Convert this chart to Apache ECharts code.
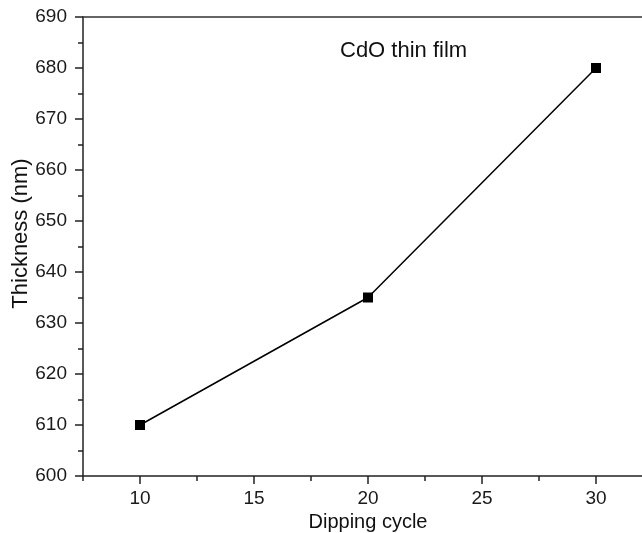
<!DOCTYPE html>
<html><head><meta charset="utf-8">
<script src="https://cdn.jsdelivr.net/npm/echarts@6/dist/echarts.min.js"></script>
<style>html,body{margin:0;padding:0;background:#fff}#c{width:642px;height:533px}</style>
</head><body><div id="c"></div>
<script>
const cycles = [10, 20, 30];
const thickness = [610, 635, 680];
const xTicks = [10, 15, 20, 25, 30];
const yTicks = [600, 610, 620, 630, 640, 650, 660, 670, 680, 690];
const label = "CdO thin film";

const font = "'Liberation Sans', Arial, sans-serif";
const chart = echarts.init(document.getElementById('c'));
chart.setOption({
  animation: false,
  backgroundColor: '#fff',
  grid: { left: 83, right: -11, top: 17, bottom: 57, outerBoundsMode: 'none', containLabel: false },
  graphic: [{ type: 'text', left: 340, top: 40, style: { text: label, font: '22px ' + font, fill: '#111' } }],
  xAxis: [{
    type: 'value', min: 7.5, max: 32.5, interval: 2.5,
    name: 'Dipping cycle', nameLocation: 'middle', nameGap: 33,
    nameTextStyle: { fontFamily: font, fontSize: 20, color: '#111' },
    axisLine: { show: true, onZero: false, lineStyle: { color: '#222', width: 1.5 } },
    axisTick: { show: true, length: 8, customValues: xTicks, lineStyle: { color: '#222', width: 1.5 } },
    axisLabel: { fontFamily: font, fontSize: 19, color: '#1a1a1a', margin: 13, customValues: xTicks },
    splitLine: { show: false }
  }, {
    type: 'value', position: 'top', min: 7.5, max: 32.5,
    axisLine: { show: true, lineStyle: { color: '#333', width: 1.5 } },
    axisTick: { show: false }, axisLabel: { show: false }, splitLine: { show: false }
  }, {
    type: 'value', position: 'bottom', min: 7.5, max: 32.5, interval: 2.5,
    axisLine: { show: false },
    axisTick: { show: true, length: 5, lineStyle: { color: '#222', width: 1.5 } },
    axisLabel: { show: false }, splitLine: { show: false }
  }],
  yAxis: {
    type: 'value', min: 600, max: 690, interval: 10,
    name: 'Thickness (nm)', nameLocation: 'middle', nameGap: 51, nameRotate: 90,
    nameMoveOverlap: false,
    nameTextStyle: { fontFamily: font, fontSize: 22, color: '#111', padding: [0, 0, 0, 26] },
    axisLine: { show: true, onZero: false, lineStyle: { color: '#222', width: 1.5 } },
    axisTick: { show: true, length: 8, lineStyle: { color: '#222', width: 1.5 } },
    minorTick: { show: true, splitNumber: 2, length: 5, lineStyle: { color: '#222', width: 1.5 } },
    axisLabel: { fontFamily: font, fontSize: 19, color: '#1a1a1a', margin: 16 },
    splitLine: { show: false }
  },
  series: [{
    type: 'line', xAxisIndex: 0,
    data: cycles.map((c, i) => [c, thickness[i]]),
    symbol: 'rect', symbolSize: 10,
    itemStyle: { color: '#000' },
    lineStyle: { color: '#000', width: 1.5 }
  }]
});
</script></body></html>
